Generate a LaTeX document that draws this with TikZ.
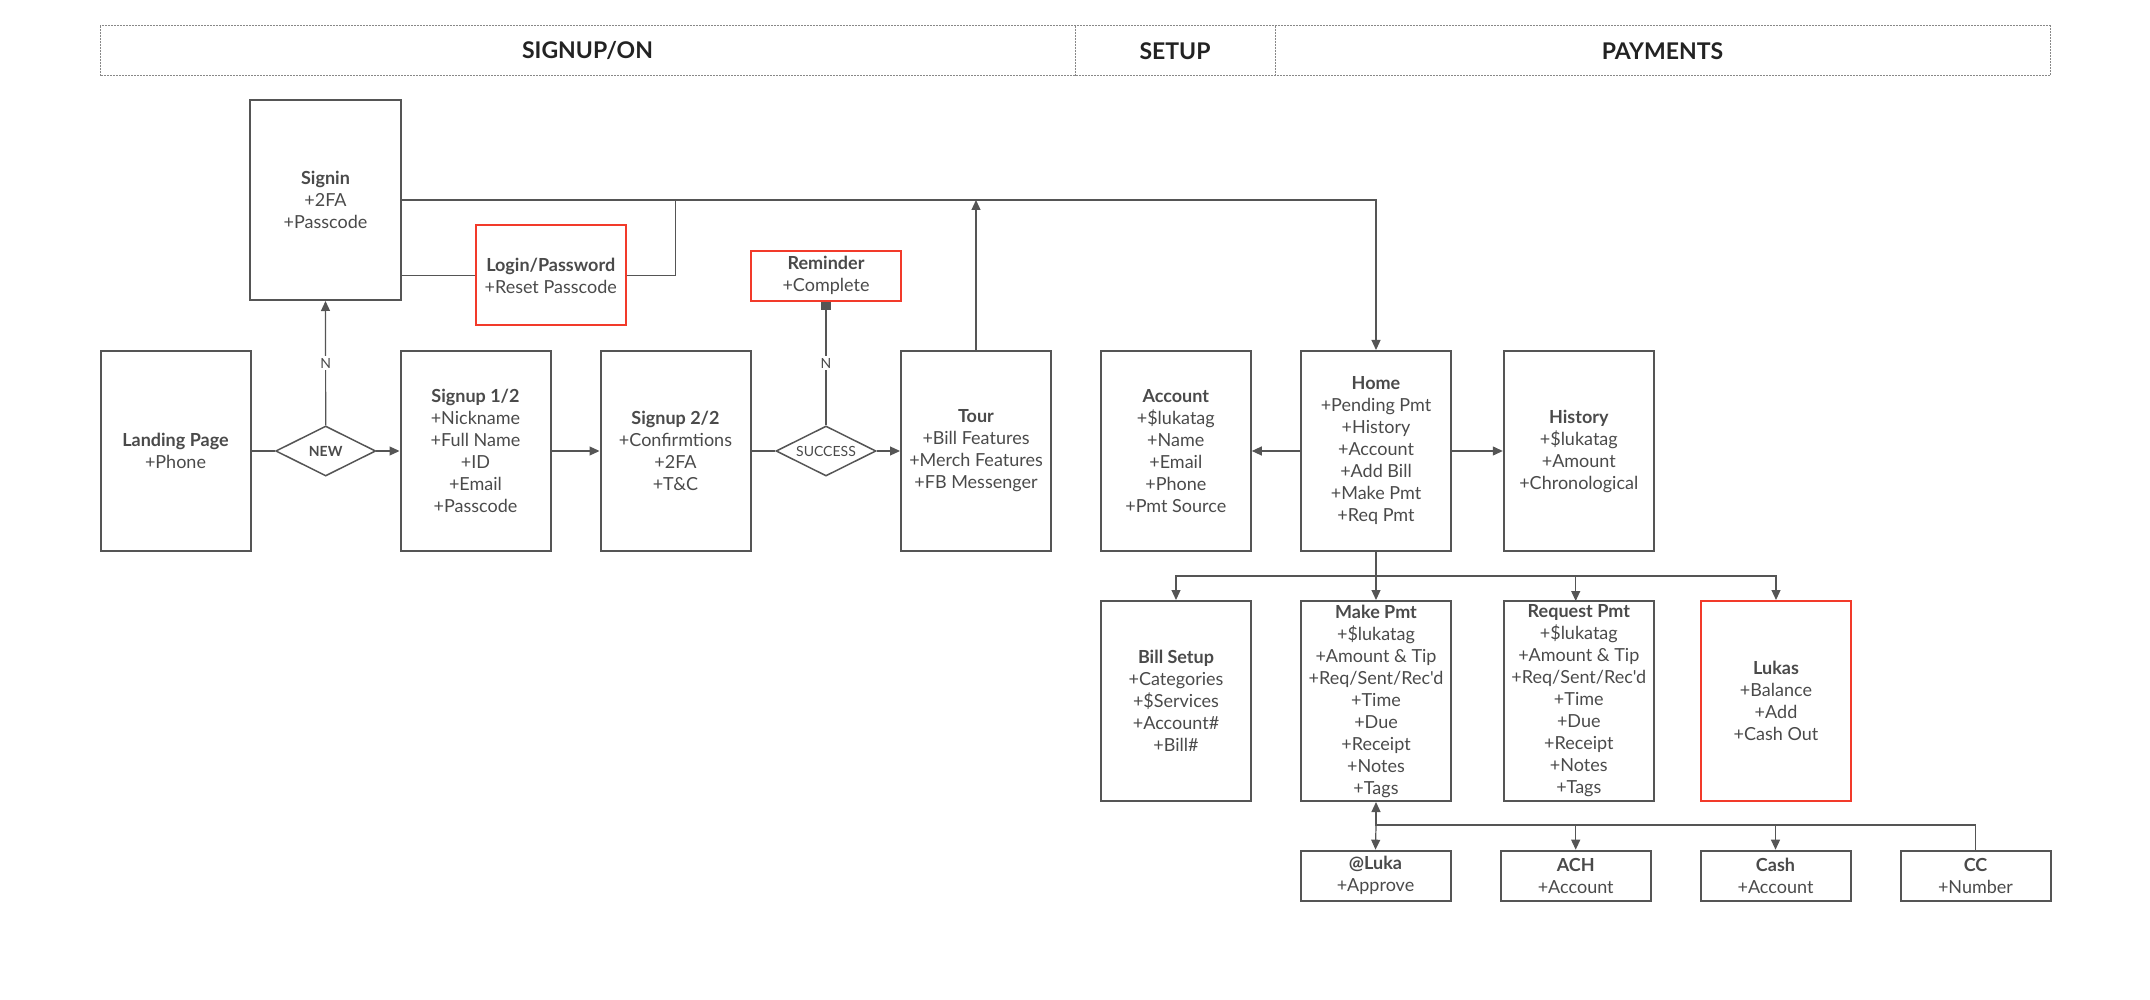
\documentclass[tikz,border=0pt]{standalone}
\usepackage{fontspec}
\newfontfamily\lato{Lato}
\usetikzlibrary{arrows.meta,shapes.geometric}
\definecolor{txt}{HTML}{4A4A4A}
\definecolor{ln}{HTML}{555555}
\definecolor{rd}{HTML}{F23A2A}
\definecolor{hd}{HTML}{222222}
\definecolor{hdl}{HTML}{888888}
\tikzset{
  box/.style={draw=ln, line width=2pt, rectangle, minimum width=150pt, minimum height=200pt, inner sep=0pt, align=center, text=txt, font=\lato\fontsize{18}{22}\selectfont},
  sbox/.style={box, minimum height=50pt},
  redbox/.style={draw=rd},
  dia/.style={draw=ln, line width=1.5pt, diamond, aspect=2, minimum width=100pt, minimum height=50pt, inner sep=0pt, text=txt, font=\lato\fontsize{14}{16}\selectfont},
  conn/.style={draw=ln, line width=1.2pt},
  arr/.style={conn, -{Triangle[length=10pt,width=9pt]}},
  sq/.style={conn, -{Square[length=8pt,width=10pt]}},
  lbl/.style={fill=white, inner sep=2pt, text=txt, font=\lato\fontsize{14}{16}\selectfont},
  hdr/.style={text=hd, font=\lato\bfseries\fontsize{23}{27}\selectfont},
}
\begin{document}
\begin{tikzpicture}[x=1pt,y=-1pt]
\useasboundingbox (0,0) rectangle (2150,1000);
% header
\draw[hdl, line width=0.8pt, dash pattern=on 2pt off 1pt] (100,25.7) rectangle (2050,75.7);
\draw[hdl, line width=0.8pt, dash pattern=on 2pt off 1pt] (1075,25.7) -- (1075,75.7);
\draw[hdl, line width=0.8pt, dash pattern=on 2pt off 1pt] (1275,25.7) -- (1275,75.7);
\node[hdr] (h1) at (587.5,50.7) {SIGNUP/ON};
\node[hdr] (h2) at (1175,50.7) {SETUP};
\node[hdr] (h3) at (1662.5,50.7) {PAYMENTS};

% signup/on
\node[box] (landing) at (175.5,451) {\textbf{Landing Page}\\+Phone};
\node[box, minimum width=151pt] (signin) at (325.5,200) {\textbf{Signin}\\+2FA\\+Passcode};
\node[box, redbox, minimum height=100pt] (login) at (550.7,275.5) {\textbf{Login/Password}\\+Reset Passcode};
\node[dia, font=\lato\bfseries\fontsize{14}{16}\selectfont] (new) at (325.7,451) {NEW};
\node[box] (signup1) at (475.5,451) {\textbf{Signup 1/2}\\+Nickname\\+Full Name\\+ID\\+Email\\+Passcode};
\node[box] (signup2) at (675.5,451) {\textbf{Signup 2/2}\\+Confirmtions\\+2FA\\+T\&C};
\node[dia] (success) at (826,451) {SUCCESS};
\node[sbox, redbox] (reminder) at (826,275.7) {\textbf{Reminder}\\+Complete};
\node[box] (tour) at (976,451) {\textbf{Tour}\\+Bill Features\\+Merch Features\\+FB Messenger};

% payments
\node[box] (account) at (1175.8,451) {\textbf{Account}\\+\$lukatag\\+Name\\+Email\\+Phone\\+Pmt Source};
\node[box] (home) at (1376,451) {\textbf{Home}\\+Pending Pmt\\+History\\+Account\\+Add Bill\\+Make Pmt\\+Req Pmt};
\node[box] (history) at (1578.8,451) {\textbf{History}\\+\$lukatag\\+Amount\\+Chronological};
\node[box] (billsetup) at (1176,701) {\textbf{Bill Setup}\\+Categories\\+\$Services\\+Account\#\\+Bill\#};
\node[box] (makepmt) at (1376,701) {\textbf{Make Pmt}\\+\$lukatag\\+Amount \& Tip\\+Req/Sent/Rec'd\\+Time\\+Due\\+Receipt\\+Notes\\+Tags};
\node[box] (reqpmt) at (1578.8,701) {\textbf{Request Pmt}\\+\$lukatag\\+Amount \& Tip\\+Req/Sent/Rec'd\\+Time\\+Due\\+Receipt\\+Notes\\+Tags};
\node[box, redbox] (lukas) at (1776,701) {\textbf{Lukas}\\+Balance\\+Add\\+Cash Out};
\node[sbox] (luka) at (1375.5,875.7) {\textbf{@Luka}\\+Approve};
\node[sbox] (ach) at (1575.7,875.7) {\textbf{ACH}\\+Account};
\node[sbox] (cash) at (1775.5,875.7) {\textbf{Cash}\\+Account};
\node[sbox] (cc) at (1975.5,875.7) {\textbf{CC}\\+Number};

% connectors signup/on
\draw[conn] (landing.east) -- (new.west);
\draw[arr] (new.east) -- (signup1.west);
\draw[arr] (new.north) -- node[lbl] {N} (signin.south);
\draw[arr] (signup1.east) -- (signup2.west);
\draw[conn] (signup2.east) -- (success.west);
\draw[arr] (success.east) -- (tour.west);
\draw[sq] (success.north) -- node[lbl] {N} (reminder.south);
\draw[arr] (signin.east) -| (home.north);
\draw[conn] (signin.east |- login.west) -- (login.west);
\coordinate (j1) at (675.5,200);
\draw[conn] (login.east) -| (j1);
\draw[arr] (tour.north) -- (tour.north |- j1);

% connectors payments
\draw[arr] (home.west) -- (account.east);
\draw[arr] (home.east) -- (history.west);
\coordinate (b1) at (1376,576);
\coordinate (rq) at (1575.7,601);
\draw[conn] (home.south) -- (b1);
\draw[arr] (b1) -| (billsetup.north);
\draw[arr] (b1) -- (makepmt.north);
\draw[arr] (b1) -| (rq);
\draw[arr] (b1) -| (lukas.north);
\coordinate (b4) at (1376,825);
\draw[arr] (cc.north) |- (b4) -- (makepmt.south);
\draw[arr] (b4) -- (luka.north);
\draw[arr] (b4 -| ach.north) -- (ach.north);
\draw[arr] (b4 -| cash.north) -- (cash.north);
\end{tikzpicture}
\end{document}
